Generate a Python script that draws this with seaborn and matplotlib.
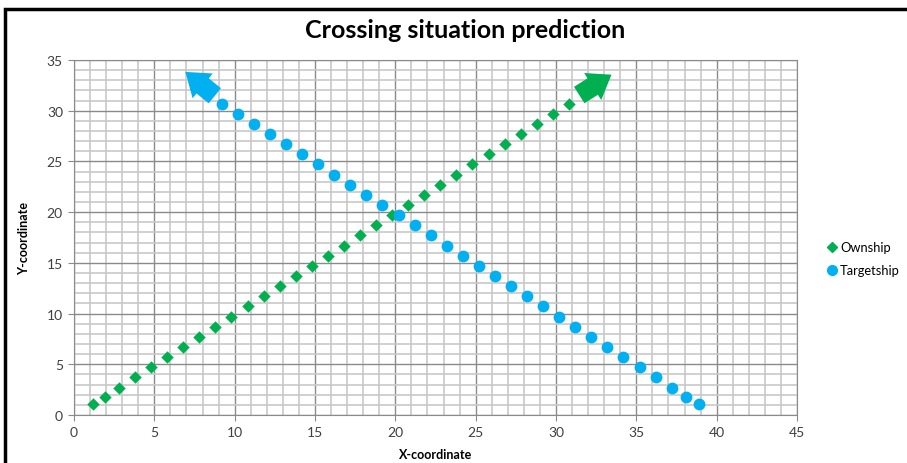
import matplotlib
matplotlib.use("Agg")
import matplotlib.pyplot as plt
import seaborn as sns
import pandas as pd
from matplotlib.patches import Rectangle
from matplotlib.lines import Line2D

# data
own_x = [1.2, 1.9, 2.8, 3.8, 4.8, 5.8, 6.8, 7.8, 8.8, 9.8, 10.8, 11.8, 12.8, 13.8, 14.8, 15.8,
         16.8, 17.8, 18.8, 19.8, 20.8, 21.8, 22.8, 23.8, 24.8, 25.8, 26.8, 27.8, 28.8, 29.8, 30.8]
own_y = [1.1, 1.8, 2.7, 3.7, 4.7, 5.7, 6.7, 7.7, 8.7, 9.7, 10.7, 11.7, 12.7, 13.7, 14.7, 15.7,
         16.7, 17.7, 18.7, 19.7, 20.7, 21.7, 22.7, 23.7, 24.7, 25.7, 26.7, 27.7, 28.7, 29.7, 30.7]
tgt_x = [9.2, 10.2, 11.2, 12.2, 13.2, 14.2, 15.2, 16.2, 17.2, 18.2, 19.2, 20.2, 21.2, 22.2, 23.2,
         24.2, 25.2, 26.2, 27.2, 28.2, 29.2, 30.2, 31.2, 32.2, 33.2, 34.2, 35.2, 36.2, 37.2, 38.1, 38.9]
tgt_y = [30.7, 29.7, 28.7, 27.7, 26.7, 25.7, 24.7, 23.7, 22.7, 21.7, 20.7, 19.7, 18.7, 17.7, 16.7,
         15.7, 14.7, 13.7, 12.7, 11.7, 10.7, 9.7, 8.7, 7.7, 6.7, 5.7, 4.7, 3.7, 2.7, 1.8, 1.1]
# heading arrows (tail, head)
own_arrow = [(31.3, 31.4), (33.6, 33.7)]
tgt_arrow = [(8.9, 31.3), (6.8, 34.0)]

GREEN = "#00B050"
CYAN = "#00B0F0"

sns.set_style("white")
plt.rcParams['font.family'] = ['Lato', 'DejaVu Sans']
plt.rcParams['text.color'] = 'black'
plt.rcParams['axes.labelcolor'] = 'black'

fig = plt.figure(figsize=(9.07, 4.64), dpi=100)
ax = fig.add_axes([74 / 907, 1 - 416 / 464, (797 - 74) / 907, (416 - 61) / 464])

# outer chart frame
fig.patches.append(Rectangle((5 / 907, -0.1), 1.1, 1 - 10 / 464 + 0.1, transform=fig.transFigure,
                             fill=False, edgecolor="black", linewidth=2.5))

own = pd.DataFrame({"x": own_x, "y": own_y})
tgt = pd.DataFrame({"x": tgt_x, "y": tgt_y})
sns.scatterplot(data=own, x="x", y="y", marker="D", s=40, color=GREEN, linewidth=0, ax=ax, zorder=3)
sns.scatterplot(data=tgt, x="x", y="y", marker="o", s=72, color=CYAN, linewidth=0, ax=ax, zorder=3)

for arr, col in [(own_arrow, GREEN), (tgt_arrow, CYAN)]:
    ax.annotate("", xy=arr[1], xytext=arr[0],
                arrowprops=dict(arrowstyle="simple,head_length=0.8,head_width=1.15,tail_width=0.7",
                                color=col, mutation_scale=20, linewidth=0), zorder=4)

ax.set_xlim(0, 45)
ax.set_ylim(0, 35)
ax.set_xticks(range(0, 46, 5))
ax.set_yticks(range(0, 36, 5))
ax.set_xticks(range(0, 46), minor=True)
ax.set_yticks(range(0, 36), minor=True)
ax.grid(which="minor", color="#c8c8c8", linewidth=1.2)
ax.grid(which="major", color="#8a8a8a", linewidth=1.0)
ax.set_axisbelow(True)
for sp in ax.spines.values():
    sp.set_color("#8a8a8a")
ax.tick_params(which="major", length=4, color="#8a8a8a", labelsize=10, labelcolor="#404040",
               bottom=True, left=True, pad=4)
ax.tick_params(which="minor", length=0)

ax.set_xlabel("X-coordinate", fontsize=9, fontweight="bold", labelpad=7)
ax.set_ylabel("Y-coordinate", fontsize=9, fontweight="bold", labelpad=12)
fig.text(465 / 907, 1 - 30 / 464, "Crossing situation prediction", ha="center", va="center",
         fontsize=18, fontweight="bold")

handles = [Line2D([], [], marker="D", color=GREEN, linestyle="", markersize=5),
           Line2D([], [], marker="o", color=CYAN, linestyle="", markersize=7)]
ax.legend(handles, ["Ownship", "Targetship"], loc="center left", bbox_to_anchor=(1.024, 0.44),
          frameon=False, fontsize=9.3, handletextpad=0.1, handlelength=1.0, labelspacing=0.85)

fig.savefig("out.png", dpi=100)
